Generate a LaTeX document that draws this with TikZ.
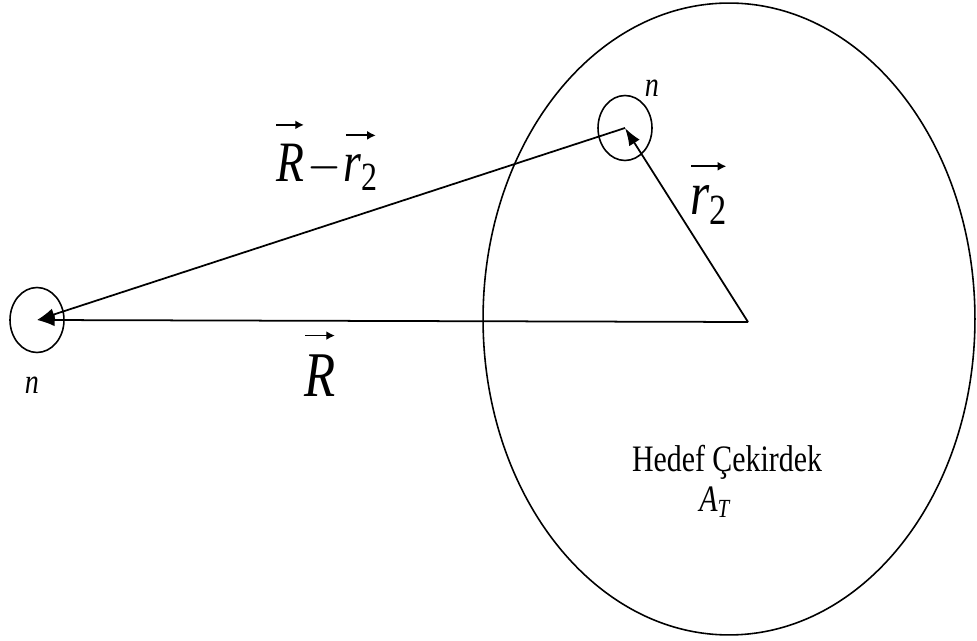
\documentclass[tikz,border=0pt]{standalone}
\usepackage{amsmath}
\usepackage{graphicx}
\usepackage{fontspec}
\setmainfont{Liberation Serif}[ItalicFont={Liberation Serif Italic}]
\usepackage{tikz}
\usetikzlibrary{arrows.meta, shapes.geometric}
\newcommand{\tall}[1]{\scalebox{1}[1.25]{#1}}
% arrow above a symbol, as in the scanned figure
\newcommand{\vecover}[2]{\overset{\raisebox{2pt}{\tikz\draw[-{Latex[length=5pt,width=4pt]}, line width=0.8pt] (0,0) -- (#1,0);}}{\mbox{#2}}}
\begin{document}
\begin{tikzpicture}[
      x=0.02cm, y=-0.02cm,
      >={Latex[length=10pt, width=7pt]},
      vec/.style={->, line width=1pt},
      particle/.style={draw, ellipse, line width=0.9pt, inner sep=0pt, minimum width=1.08cm, minimum height=1.3cm},
      nucleus/.style={draw, ellipse, line width=0.9pt, inner sep=0pt, minimum width=9.84cm, minimum height=12.64cm},
      lbl/.style={inner sep=0pt}]
    \useasboundingbox (0,0) rectangle (977,641);
    % target nucleus and the two neutrons
    \node[nucleus] (target) at (729,319) {};
    \coordinate (O) at (748,322);
    \node[particle] (nleft) at (37,320) {};
    \node[particle] (nup) at (625,128) {};
    % vectors
    \draw[vec] (O) -- (nleft.center);
    \draw[vec] (O) -- (nup.center);
    \draw[vec] (nup.center) -- (nleft.center);
    % labels
    \node[lbl, font=\fontsize{16}{18}\selectfont] (nlabL) at (32,385) {\tall{\itshape n}};
    \node[lbl, font=\fontsize{16}{18}\selectfont] (nlabU) at (652,88) {\tall{\itshape n}};
    \node[lbl, anchor=base west, font=\fontsize{26}{30}\selectfont] (Rmr) at (275,182)
      {\tall{$\vecover{0.56cm}{\itshape R}\!-\!\vecover{0.6cm}{\itshape r\textsubscript{\upshape 2}}$}};
    \node[lbl, anchor=base west, font=\fontsize{28}{32}\selectfont] (rtwo) at (690,215)
      {\tall{$\vecover{0.7cm}{\itshape r\textsubscript{\upshape 2}}$}};
    \node[lbl, anchor=base west, font=\fontsize{29}{33}\selectfont] (Rlab) at (304,397)
      {\tall{$\vecover{0.6cm}{\itshape R}$}};
    \node[lbl, anchor=base, font=\fontsize{17}{20}\selectfont] (hedef) at (727,472) {\tall{Hedef Çekirdek}};
    \node[lbl, anchor=base west, font=\fontsize{17}{20}\selectfont] (AT) at (699,512) {\tall{\itshape A\textsubscript{T}}};
  \end{tikzpicture}
\end{document}
